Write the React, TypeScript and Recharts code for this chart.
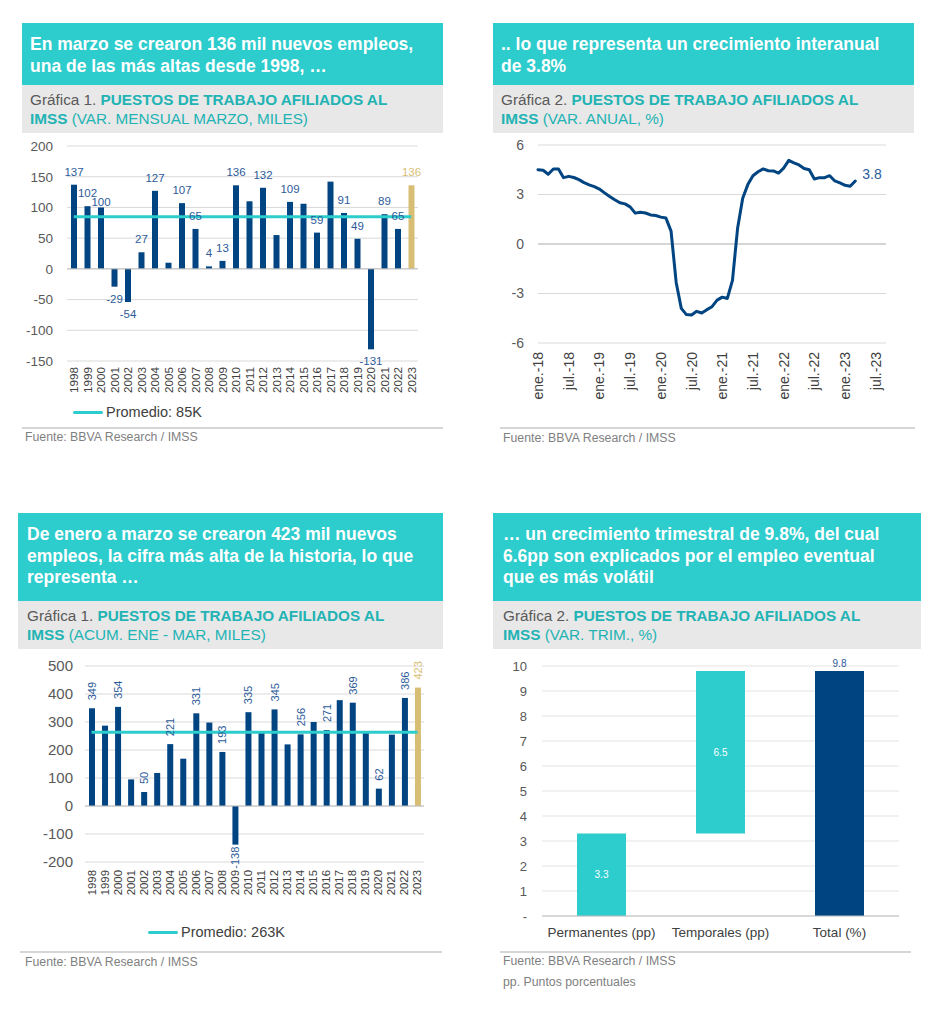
import React from 'react';
import {
  ComposedChart, BarChart, LineChart, Bar, Line, XAxis, YAxis,
  CartesianGrid, ReferenceLine, LabelList, Cell,
} from 'recharts';

const FONT = '"Liberation Sans", Arial, Helvetica, sans-serif';
const TEAL = '#2DCCCD';
const SUB_TEAL = '#22B3B4';
const NAVY = '#004481';
const GOLD = '#D8BE75';
const LABEL_BLUE = '#2D5B9A';
const GRID = '#D9D9D9';
const AXIS_TEXT = '#595959';
const DARK_TEXT = '#404040';

// años de las dos gráficas de barras
const years = [
  '1998', '1999', '2000', '2001', '2002', '2003', '2004', '2005', '2006',
  '2007', '2008', '2009', '2010', '2011', '2012', '2013', '2014', '2015',
  '2016', '2017', '2018', '2019', '2020', '2021', '2022', '2023',
];

// Gráfica 1: var. mensual marzo, miles
const marzoValues = [
  137, 102, 100, -29, -54, 27, 127, 10, 107, 65, 4, 13, 136,
  110, 132, 55, 109, 106, 59, 142, 91, 49, -131, 89, 65, 136,
];
const marzoSinEtiqueta = ['2005', '2011', '2013', '2015', '2017'];
const marzoPromedio = 85;
const marzoTicks = [-150, -100, -50, 0, 50, 100, 150, 200];

// Gráfica 2: var. anual %, mensual ene-18 a mar-23
const anualValues = [
  4.5, 4.47, 4.23, 4.55, 4.55, 4.02, 4.1, 4.03, 3.9, 3.72, 3.58, 3.48,
  3.33, 3.1, 2.88, 2.68, 2.5, 2.43, 2.25, 1.87, 1.93, 1.88, 1.76, 1.73,
  1.63, 1.57, 0.78, -2.33, -3.9, -4.28, -4.3, -4.08, -4.18, -3.98, -3.8, -3.4,
  -3.22, -3.3, -2.2, 0.95, 2.77, 3.6, 4.14, 4.38, 4.55, 4.44, 4.43, 4.3,
  4.6, 5.07, 4.92, 4.79, 4.58, 4.5, 3.94, 4.02, 4.02, 4.14, 3.82, 3.7,
  3.56, 3.5, 3.82,
];
const anualTickLabels = [
  'ene.-18', 'jul.-18', 'ene.-19', 'jul.-19', 'ene.-20', 'jul.-20',
  'ene.-21', 'jul.-21', 'ene.-22', 'jul.-22', 'ene.-23', 'jul.-23',
];
const anualTicks = [-6, -3, 0, 3, 6];

// Gráfica 1 (abajo): acumulado ene-mar, miles
const acumValues = [
  349, 287, 354, 95, 50, 118, 221, 169, 331, 298, 193, -138, 335,
  261, 345, 220, 256, 300, 271, 378, 369, 261, 62, 255, 386, 423,
];
const acumSinEtiqueta = [
  '1999', '2001', '2003', '2005', '2007', '2011', '2013', '2015', '2017', '2019', '2021',
];
const acumPromedio = 263;
const acumTicks = [-200, -100, 0, 100, 200, 300, 400, 500];

// Gráfica 2 (abajo): var. trimestral %
const trimCategorias = ['Permanentes (pp)', 'Temporales (pp)', 'Total (%)'];
const trimValores = [3.3, 6.5, 9.8];
const trimTicks = [0, 1, 2, 3, 4, 5, 6, 7, 8, 9, 10];

const marzoData = years.map((year, i) => ({ year, v: marzoValues[i], prom: marzoPromedio }));
const acumData = years.map((year, i) => ({ year, v: acumValues[i], prom: acumPromedio }));
const anualData = anualValues.map((v, i) => ({ m: i, v }));
const trimData = trimCategorias.map((cat, i) => ({
  cat,
  base: i === 1 ? trimValores[0] : 0,
  v: trimValores[i],
}));

const getBox = (p: any) => {
  const vb = p.viewBox || {};
  const x = typeof p.x === 'number' ? p.x : vb.x;
  const y = typeof p.y === 'number' ? p.y : vb.y;
  const width = typeof p.width === 'number' ? p.width : vb.width || 0;
  const height = typeof p.height === 'number' ? p.height : vb.height || 0;
  return { x, y, width, height, top: Math.min(y, y + height), bottom: Math.max(y, y + height) };
};

const RotatedTick = (props: any) => {
  const { x, y, payload, fs, labels } = props;
  const text = labels ? labels[Math.round(payload.value / 6)] : payload.value;
  return (
    <text x={x} y={y} transform={`rotate(-90 ${x} ${y})`} textAnchor="end"
      dominantBaseline="central" fontSize={fs} fill={DARK_TEXT}>
      {text}
    </text>
  );
};

const marzoLabel = (props: any) => {
  const idx = props.index;
  if (marzoSinEtiqueta.includes(years[idx])) return null;
  const b = getBox(props);
  const cx = b.x + b.width / 2;
  const value = marzoValues[idx];
  // when the previous label sits at almost the same height, drop this one a bit (as in the original)
  const prev = idx > 0 && !marzoSinEtiqueta.includes(years[idx - 1]) ? marzoValues[idx - 1] : null;
  const crowded = prev !== null && value > 0 && Math.abs(prev - value) < 5;
  const ty = value >= 0 ? b.top - (crowded ? 5 : 13) : b.bottom + 12;
  return (
    <text x={cx} y={ty} textAnchor="middle" dominantBaseline="central" fontSize={11.5}
      fill={idx === years.length - 1 ? GOLD : LABEL_BLUE}>
      {value}
    </text>
  );
};

const acumLabel = (props: any) => {
  const idx = props.index;
  if (acumSinEtiqueta.includes(years[idx])) return null;
  const b = getBox(props);
  const cx = b.x + b.width / 2;
  const value = acumValues[idx];
  const ty = value >= 0 ? b.top - 8 : b.bottom + 2;
  return (
    <text x={cx} y={ty} transform={`rotate(-90 ${cx} ${ty})`}
      textAnchor={value >= 0 ? 'start' : 'end'} dominantBaseline="central" fontSize={11}
      fill={idx === years.length - 1 ? GOLD : LABEL_BLUE}>
      {value}
    </text>
  );
};

const anualLabel = (props: any) => {
  if (props.index !== anualValues.length - 1) return null;
  const b = getBox(props);
  return (
    <text x={b.x + 7} y={b.y - 7} dominantBaseline="central" fontSize={14} fill={LABEL_BLUE}>
      {anualValues[props.index].toFixed(1)}
    </text>
  );
};

const trimLabel = (props: any) => {
  const idx = props.index;
  const b = getBox(props);
  const cx = b.x + b.width / 2;
  if (idx === trimCategorias.length - 1) {
    return (
      <text x={cx} y={b.top - 8} textAnchor="middle" dominantBaseline="central" fontSize={10} fill={LABEL_BLUE}>
        {trimValores[idx].toFixed(1)}
      </text>
    );
  }
  return (
    <text x={cx} y={(b.top + b.bottom) / 2} textAnchor="middle" dominantBaseline="central" fontSize={10} fill="#FFFFFF">
      {trimValores[idx].toFixed(1)}
    </text>
  );
};

const Header = ({ left, top, width, height, pad, lines }: any) => (
  <div style={{
    position: 'absolute', left, top, width, height, background: TEAL, color: '#FFFFFF',
    fontWeight: 'bold', fontSize: 17.5, lineHeight: '21.5px', padding: `11px 0 0 ${pad}px`,
    boxSizing: 'border-box',
  }}>
    {lines.map((l: string) => <div key={l} style={{ whiteSpace: 'nowrap' }}>{l}</div>)}
  </div>
);

const Subtitle = ({ left, top, width, pad, num, rest }: any) => (
  <div style={{
    position: 'absolute', left, top, width, height: 48, background: '#E8E8E8', color: SUB_TEAL,
    fontSize: 15.3, lineHeight: '19px', padding: `5px 0 0 ${pad}px`, boxSizing: 'border-box',
  }}>
    <div style={{ whiteSpace: 'nowrap' }}>
      <span style={{ color: AXIS_TEXT }}>{`Gráfica ${num}. `}</span>
      <b>PUESTOS DE TRABAJO AFILIADOS AL</b>
    </div>
    <div style={{ whiteSpace: 'nowrap' }}><b>IMSS</b> {rest}</div>
  </div>
);

const Promedio = ({ left, top, text }: any) => (
  <div style={{
    position: 'absolute', left, top, display: 'flex', alignItems: 'center',
    fontSize: 14.5, lineHeight: '18px', color: DARK_TEXT, whiteSpace: 'nowrap',
  }}>
    <span style={{ display: 'inline-block', width: 30, height: 3, background: TEAL, marginRight: 3, borderRadius: 2 }} />
    {text}
  </div>
);

const Rule = ({ left, top, width }: any) => (
  <div style={{ position: 'absolute', left, top, width, height: 2, background: '#D6D6D6' }} />
);

const Note = ({ left, top, text }: any) => (
  <div style={{ position: 'absolute', left, top, fontSize: 12.3, lineHeight: '14px', color: '#7F7F7F', whiteSpace: 'nowrap' }}>
    {text}
  </div>
);

const App: React.FC = () => {
  return (
    <div style={{ position: 'absolute', left: 0, top: 0, width: 940, height: 1024, background: '#FFFFFF', fontFamily: FONT }}>
      {/* Panel 1 */}
      <Header left={22} top={23} width={421} height={62} pad={8}
        lines={['En marzo se crearon 136 mil nuevos empleos,', 'una de las más altas desde 1998, …']} />
      <Subtitle left={22} top={85} width={421} pad={8} num={1} rest="(VAR. MENSUAL MARZO, MILES)" />
      <div style={{ position: 'absolute', left: 15, top: 135 }}>
        <ComposedChart width={425} height={270} data={marzoData} margin={{ top: 11, right: 22, bottom: 0, left: 0 }}>
          <CartesianGrid horizontal vertical={false} stroke={GRID} />
          <XAxis dataKey="year" axisLine={false} tickLine={false} tickSize={0} tickMargin={6} height={44}
            interval={0} tick={(p: any) => <RotatedTick {...p} fs={11.7} />} />
          <YAxis domain={[-150, 200]} ticks={marzoTicks} width={52} axisLine={false} tickLine={false}
            tickSize={0} tickMargin={14} tick={{ fill: AXIS_TEXT, fontSize: 13.5 }} />
          <ReferenceLine y={0} stroke="#BFBFBF" />
          <Bar dataKey="v" barSize={6} isAnimationActive={false}>
            {marzoData.map((d, i) => <Cell key={d.year} fill={i === years.length - 1 ? GOLD : NAVY} />)}
            <LabelList dataKey="v" content={marzoLabel} />
          </Bar>
          <Line dataKey="prom" stroke={TEAL} strokeWidth={3} dot={false} isAnimationActive={false} />
        </ComposedChart>
      </div>
      <Promedio left={73} top={403} text="Promedio: 85K" />
      <Rule left={22} top={427} width={421} />
      <Note left={25} top={430} text="Fuente: BBVA Research / IMSS" />

      {/* Panel 2 */}
      <Header left={493} top={23} width={421} height={62} pad={8}
        lines={['.. lo que representa un crecimiento interanual', 'de 3.8%']} />
      <Subtitle left={493} top={85} width={421} pad={8} num={2} rest="(VAR. ANUAL, %)" />
      <div style={{ position: 'absolute', left: 490, top: 135 }}>
        <LineChart width={416} height={270} data={anualData} margin={{ top: 10, right: 20, bottom: 0, left: 0 }}>
          <CartesianGrid horizontal vertical={false} stroke={GRID} />
          <XAxis dataKey="m" type="number" domain={[0, 68]} ticks={anualTickLabels.map((_, i) => i * 6)}
            axisLine={false} tickLine={false} tickSize={0} tickMargin={9} height={62} interval={0}
            tick={(p: any) => <RotatedTick {...p} fs={14} labels={anualTickLabels} />} />
          <YAxis domain={[-6, 6]} ticks={anualTicks} width={48} axisLine={false} tickLine={false}
            tickSize={0} tickMargin={14} tick={{ fill: AXIS_TEXT, fontSize: 14 }} />
          <ReferenceLine y={0} stroke="#BFBFBF" />
          <Line dataKey="v" type="linear" stroke={NAVY} strokeWidth={3} dot={false}
            strokeLinejoin="round" strokeLinecap="round" isAnimationActive={false}>
            <LabelList dataKey="v" content={anualLabel} />
          </Line>
        </LineChart>
      </div>
      <Rule left={500} top={427} width={415} />
      <Note left={503} top={431} text="Fuente: BBVA Research / IMSS" />

      {/* Panel 3 */}
      <Header left={18} top={513} width={425} height={88} pad={9}
        lines={['De enero a marzo se crearon 423 mil nuevos', 'empleos, la cifra más alta de la historia, lo que', 'representa …']} />
      <Subtitle left={18} top={601} width={425} pad={9} num={1} rest="(ACUM. ENE - MAR, MILES)" />
      <div style={{ position: 'absolute', left: 15, top: 655 }}>
        <ComposedChart width={425} height={247} data={acumData} margin={{ top: 11, right: 16, bottom: 0, left: 0 }}>
          <CartesianGrid horizontal vertical={false} stroke={GRID} />
          <XAxis dataKey="year" axisLine={false} tickLine={false} tickSize={0} tickMargin={8} height={40}
            interval={0} tick={(p: any) => <RotatedTick {...p} fs={11.4} />} />
          <YAxis domain={[-200, 500]} ticks={acumTicks} width={70} axisLine={false} tickLine={false}
            tickSize={0} tickMargin={12} tick={{ fill: AXIS_TEXT, fontSize: 15 }} />
          <ReferenceLine y={0} stroke="#BFBFBF" />
          <Bar dataKey="v" barSize={6} isAnimationActive={false}>
            {acumData.map((d, i) => <Cell key={d.year} fill={i === years.length - 1 ? GOLD : NAVY} />)}
            <LabelList dataKey="v" content={acumLabel} />
          </Bar>
          <Line dataKey="prom" stroke={TEAL} strokeWidth={3} dot={false} isAnimationActive={false} />
        </ComposedChart>
      </div>
      <Promedio left={148} top={923} text="Promedio: 263K" />
      <Rule left={20} top={951} width={422} />
      <Note left={25} top={955} text="Fuente: BBVA Research / IMSS" />

      {/* Panel 4 */}
      <Header left={493} top={513} width={428} height={88} pad={10}
        lines={['… un crecimiento trimestral de 9.8%, del cual', '6.6pp son explicados por el empleo eventual', 'que es más volátil']} />
      <Subtitle left={493} top={601} width={428} pad={10} num={2} rest="(VAR. TRIM., %)" />
      <div style={{ position: 'absolute', left: 490, top: 652 }}>
        <BarChart width={424} height={294} data={trimData} margin={{ top: 14, right: 15, bottom: 0, left: 0 }}>
          <CartesianGrid horizontal vertical={false} stroke="#E3E3E3" />
          <XAxis dataKey="cat" axisLine={{ stroke: '#BFBFBF' }} tickLine={false} tickSize={0} tickMargin={11}
            height={30} interval={0} tick={{ fill: DARK_TEXT, fontSize: 13.5 }} />
          <YAxis domain={[0, 10]} ticks={trimTicks} width={52} axisLine={false} tickLine={false}
            tickSize={0} tickMargin={15} tick={{ fill: AXIS_TEXT, fontSize: 13 }}
            tickFormatter={(v: number) => (v === 0 ? '-' : String(v))} />
          <Bar dataKey="base" stackId="t" fill="transparent" barSize={49} isAnimationActive={false} />
          <Bar dataKey="v" stackId="t" barSize={49} isAnimationActive={false}>
            {trimData.map((d, i) => <Cell key={d.cat} fill={i === trimCategorias.length - 1 ? NAVY : TEAL} />)}
            <LabelList dataKey="v" content={trimLabel} />
          </Bar>
        </BarChart>
      </div>
      <Rule left={500} top={951} width={411} />
      <Note left={503} top={954} text="Fuente: BBVA Research / IMSS" />
      <Note left={503} top={975} text="pp. Puntos porcentuales" />
    </div>
  );
};

export default App;
